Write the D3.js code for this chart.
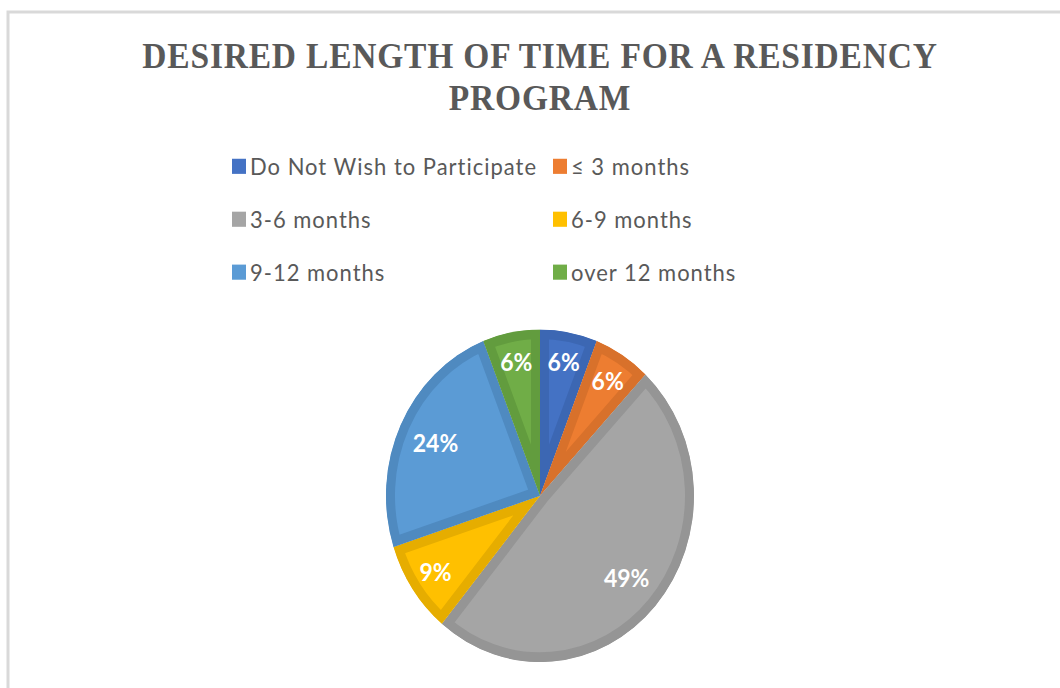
<!DOCTYPE html>
<html>
<head>
<meta charset="utf-8">
<script src="https://cdn.jsdelivr.net/npm/d3@7"></script>
<style>
  body { margin: 0; background: #fff; }
  svg { display: block; }
</style>
</head>
<body>
<svg id="chart"></svg>
<script>
// chart data
const categories = ["Do Not Wish to Participate", "\u2264 3 months", "3-6 months", "6-9 months", "9-12 months", "over 12 months"];
const percents = [6, 6, 49, 9, 24, 6];
const fills = ["#4472C4", "#ED7D31", "#A5A5A5", "#FFC000", "#5B9BD5", "#70AD47"];
const edges = ["#3C67B3", "#D8712B", "#959595", "#E6AD00", "#4F8AC0", "#629C3E"];
const titleLines = ["DESIRED LENGTH OF TIME FOR A RESIDENCY", "PROGRAM"];

const width = 1060, height = 688;
const svg = d3.select("#chart").attr("width", width).attr("height", height);

// outer chart frame (runs off the right and bottom edges)
svg.append("rect")
  .attr("x", 8).attr("y", 12)
  .attr("width", 1100).attr("height", 720)
  .attr("fill", "none")
  .attr("stroke", "#d9d9d9")
  .attr("stroke-width", 3);

// the picture is slightly stretched vertically
const g = svg.append("g").attr("transform", "scale(1,1.08)");

// title
g.selectAll(".title")
  .data(titleLines)
  .enter().append("text")
  .attr("class", "title")
  .attr("x", 540)
  .attr("y", (d, i) => 63 + i * 39)
  .attr("text-anchor", "middle")
  .attr("font-family", "'Liberation Serif', 'Times New Roman', serif")
  .attr("font-weight", "bold")
  .attr("font-size", 33.5)
  .attr("letter-spacing", 0.8)
  .attr("fill", "#595959")
  .text(d => d);

// legend, two columns
const legend = g.append("g");
const items = legend.selectAll(".item")
  .data(categories)
  .enter().append("g")
  .attr("class", "item")
  .attr("transform", (d, i) => `translate(${i % 2 ? 553 : 232},${154 + Math.floor(i / 2) * 49})`);

items.append("rect")
  .attr("x", 0).attr("y", -7)
  .attr("width", 14).attr("height", 14)
  .attr("fill", (d, i) => fills[i]);

items.append("text")
  .attr("x", 18)
  .attr("y", 0)
  .attr("dy", "0.36em")
  .attr("font-family", "Lato, 'Open Sans', sans-serif")
  .attr("font-size", 22)
  .attr("letter-spacing", 1)
  .attr("fill", "#595959")
  .text(d => d);

// pie
const radius = 154;
const cx = 540, cy = 459;
const pie = d3.pie().sort(null).value(d => d);
const arc = d3.arc().innerRadius(0).outerRadius(radius);
const arcs = pie(percents);

const pieG = g.append("g").attr("transform", `translate(${cx},${cy})`);
const defs = svg.append("defs");

defs.selectAll("clipPath")
  .data(arcs)
  .enter().append("clipPath")
  .attr("id", (d, i) => "slice" + i)
  .append("path")
  .attr("d", arc);

pieG.selectAll(".slice")
  .data(arcs)
  .enter().append("path")
  .attr("class", "slice")
  .attr("d", arc)
  .attr("fill", (d, i) => fills[i])
  .attr("stroke", (d, i) => edges[i])
  .attr("stroke-width", 18)
  .attr("stroke-linejoin", "miter")
  .attr("clip-path", (d, i) => `url(#slice${i})`);

// data labels
pieG.selectAll(".label")
  .data(arcs)
  .enter().append("text")
  .attr("class", "label")
  .attr("transform", d => {
    const r = d.data > 20 ? radius * 0.75 : radius * 0.82;
    const a = (d.startAngle + d.endAngle) / 2;
    return `translate(${Math.sin(a) * r},${-Math.cos(a) * r})`;
  })
  .attr("text-anchor", "middle")
  .attr("dy", "0.36em")
  .attr("font-family", "Lato, 'Open Sans', sans-serif")
  .attr("font-weight", "bold")
  .attr("font-size", 23)
  .attr("fill", "#fff")
  .text(d => d.data + "%");
</script>
</body>
</html>
